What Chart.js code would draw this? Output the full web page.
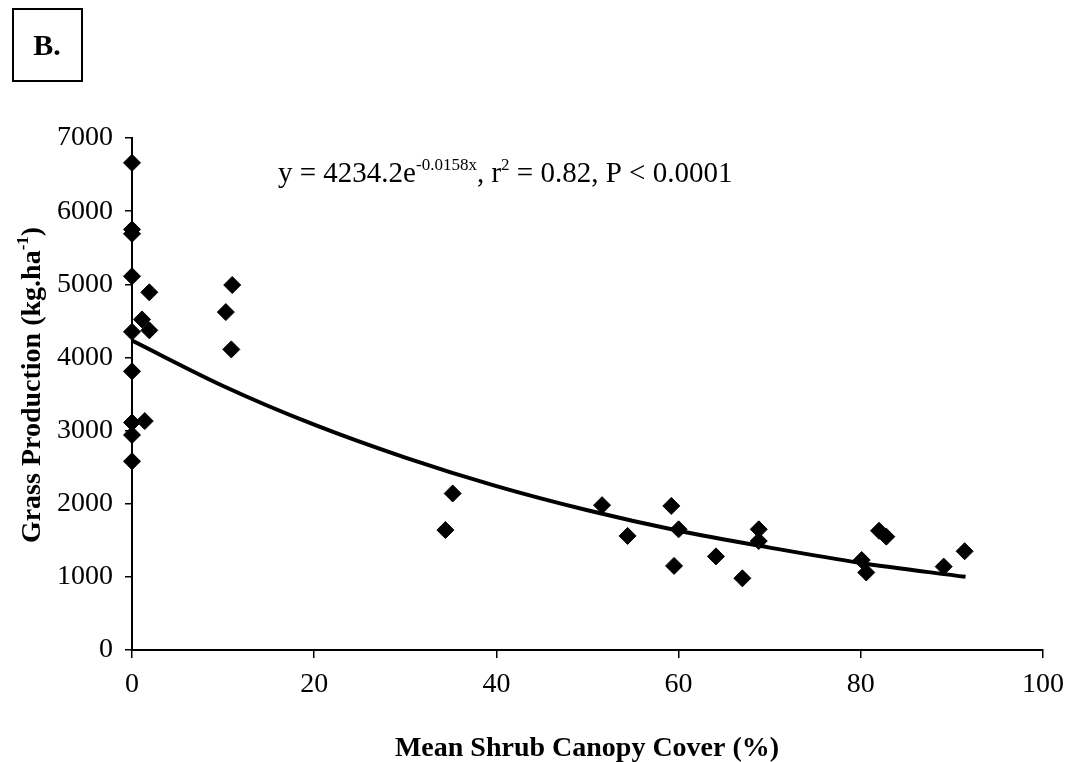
<!DOCTYPE html>
<html><head><meta charset="utf-8">
<script src="https://cdn.jsdelivr.net/npm/chart.js@4.4.1/dist/chart.umd.min.js"></script>
<style>html,body{margin:0;padding:0;background:#fff}#wrap{width:1074px;height:762px}</style>
</head><body><div id="wrap"><canvas id="c" width="1074" height="762"></canvas></div>
<script>
// Observed data (x = mean shrub canopy cover %, y = grass production kg/ha)
const coverX = [0,0,0,0,0,0,0,0,0, 1.1,1.9,1.9,1.4, 11.0,10.3,10.9, 35.2,34.4, 51.6,54.4, 59.2,60.0,59.5,64.1,67.0,68.8,68.8, 82.0,82.8,80.1,80.6,89.1,91.4];
const grassY = [6660,5750,5690,5110,4350,3810,3110,2940,2580, 4520,4890,4370,3130, 4990,4620,4110, 2140,1640, 1980,1560, 1970,1650,1150,1280,980,1650,1490, 1630,1550,1230,1060,1140,1350];
// Fitted curve
const fitX = [0,10,20,30,40,50,60,70,80,91.5];
const fitY = [4230,3610,3080,2630,2240,1910,1630,1400,1190,1000];
const yTicks = [0,1000,2000,3000,4000,5000,6000,7000];
const xTicks = [0,20,40,60,80,100];

const points = coverX.map((x,i)=>({x:x,y:grassY[i]}));
const fit = fitX.map((x,i)=>({x:x,y:fitY[i]}));
const SERIF = "'Liberation Serif','Times New Roman',serif";

function drawRich(ctx, segs, x, y, align, size, supSize, bold){
  const w = bold ? 'bold ' : '';
  let total = 0;
  segs.forEach(s=>{ctx.font = w + (s.sup?supSize:size) + 'px ' + SERIF; s.w = ctx.measureText(s.t).width; total += s.w;});
  let cx = align==='center' ? x - total/2 : x;
  ctx.textAlign='left'; ctx.textBaseline='alphabetic';
  segs.forEach(s=>{ctx.font = w + (s.sup?supSize:size) + 'px ' + SERIF; ctx.fillText(s.t, cx, s.sup ? y - size*0.42 : y); cx += s.w;});
}

const deco = {
  id:'deco',
  afterDraw(chart){
    const ctx = chart.ctx; ctx.save(); ctx.fillStyle='#000'; ctx.strokeStyle='#000';
    ctx.lineWidth=2; ctx.strokeRect(13,9,69,72);
    ctx.font = 'bold 30px ' + SERIF; ctx.textAlign='center'; ctx.textBaseline='middle';
    ctx.fillText('B.', 47, 47);
    drawRich(ctx,[{t:'y = 4234.2e'},{t:'-0.0158x',sup:true},{t:', r'},{t:'2',sup:true},{t:' = 0.82, P < 0.0001'}],278,182,'left',29,17,false);
    drawRich(ctx,[{t:'Mean Shrub Canopy Cover (%)'}],587,756,'center',28,17,true);
    ctx.save(); ctx.translate(40,385); ctx.rotate(-Math.PI/2);
    drawRich(ctx,[{t:'Grass Production (kg.ha'},{t:'-1',sup:true},{t:')'}],0,0,'center',28,17,true);
    ctx.restore();
    ctx.restore();
  }
};

new Chart(document.getElementById('c'),{
  type:'scatter',
  data:{datasets:[
    {label:'fit',type:'line',data:fit,borderColor:'#000',borderWidth:4,pointRadius:0,fill:false,cubicInterpolationMode:'monotone',order:2},
    {label:'obs',data:points,pointStyle:'rectRot',pointRadius:8.5,pointBackgroundColor:'#000',pointBorderColor:'#000',pointBorderWidth:1,clip:false,order:1}
  ]},
  options:{
    responsive:false,animation:false,
    layout:{padding:{top:138,right:31,left:0,bottom:0}},
    plugins:{legend:{display:false},tooltip:{enabled:false}},
    scales:{
      x:{type:'linear',min:0,max:100,
        afterBuildTicks(s){s.ticks = xTicks.map(v=>({value:v}));},
        afterFit(s){s.height=112;},
        grid:{drawOnChartArea:false,drawTicks:true,tickLength:8,color:'#000',lineWidth:1.5},
        border:{display:true,color:'#000',width:2},
        ticks:{color:'#000',font:{family:SERIF,size:28},padding:10,maxRotation:0,callback:v=>String(v)}
      },
      y:{type:'linear',min:0,max:7000,
        afterBuildTicks(s){s.ticks = yTicks.map(v=>({value:v}));},
        afterFit(s){s.width=132;},
        grid:{drawOnChartArea:false,drawTicks:true,tickLength:7,color:'#000',lineWidth:1.5},
        border:{display:true,color:'#000',width:2},
        ticks:{color:'#000',font:{family:SERIF,size:28},padding:12,callback:v=>String(v)}
      }
    }
  },
  plugins:[deco]
});
</script></body></html>
